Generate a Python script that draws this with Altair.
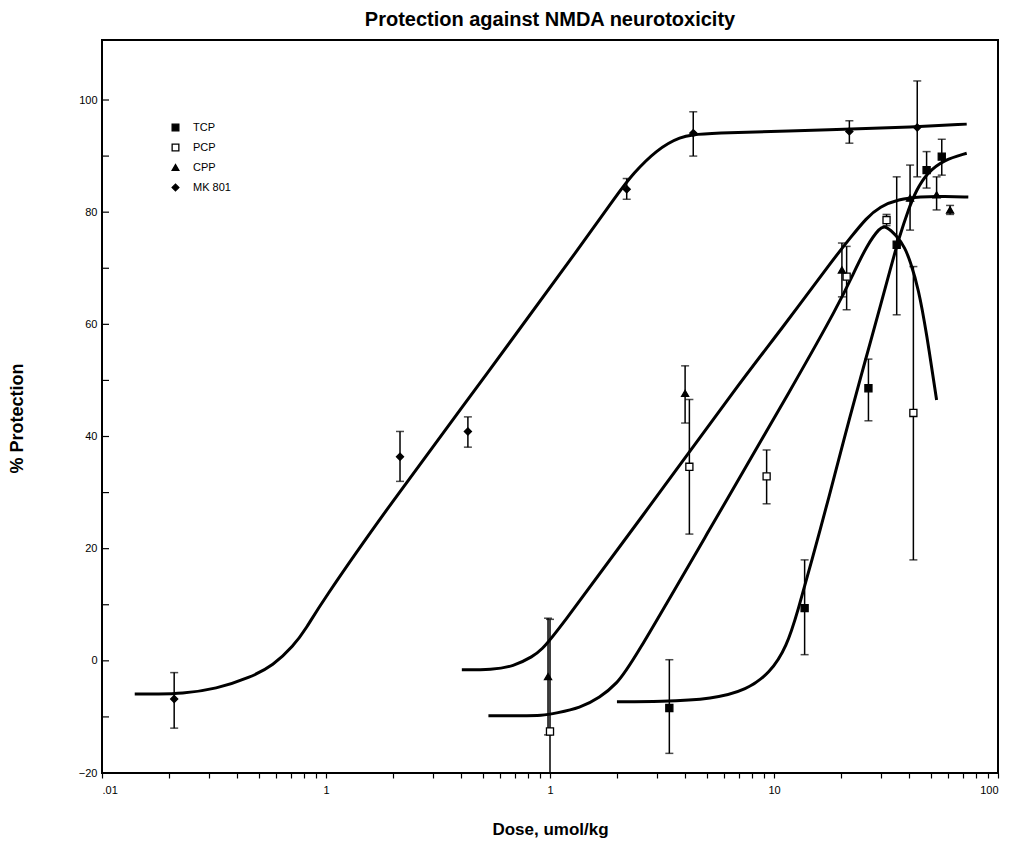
import altair as alt
import pandas as pd

# ---------------- data ----------------
series_names = ["TCP", "PCP", "CPP", "MK 801"]
series_shapes = ["square", "square", "triangle-up", "diamond"]
series_fills = ["black", "white", "black", "black"]
series_strokes = ["black", "black", "black", "black"]

tcp_x = [3.41, 13.7, 26.4, 35.3, 48.0, 56.1]
tcp_y = [-8.4, 9.4, 48.6, 74.2, 87.5, 89.9]
tcp_lo = [-16.5, 1.1, 42.8, 61.7, 84.3, 86.6]
tcp_hi = [0.2, 18.0, 53.8, 86.3, 90.8, 93.0]

pcp_x = [1.0, 4.19, 9.27, 21.1, 31.8, 41.9]
pcp_y = [-12.6, 34.6, 32.9, 68.5, 78.6, 44.2]
pcp_lo = [-32.6, 22.6, 28.0, 62.6, 77.6, 18.0]
pcp_hi = [7.4, 46.6, 37.6, 73.9, 79.6, 70.3]

cpp_x = [0.98, 4.01, 20.1, 40.5, 53.2, 61.1]
cpp_y = [-2.8, 47.7, 69.7, 82.5, 83.1, 80.4]
cpp_lo = [-13.2, 42.4, 64.9, 76.8, 80.4, 79.6]
cpp_hi = [7.6, 52.6, 74.5, 88.4, 86.3, 81.2]

mk_x = [0.021, 0.214, 0.430, 2.20, 4.36, 21.7, 43.6]
mk_y = [-6.8, 36.4, 40.9, 84.1, 94.1, 94.4, 95.1]
mk_lo = [-12.0, 32.0, 38.1, 82.3, 90.0, 92.3, 86.3]
mk_hi = [-2.1, 40.9, 43.5, 86.0, 97.9, 96.3, 103.4]

# fitted curves
mk_curve_x = [0.0140, 0.0180, 0.0223, 0.0325, 0.0458, 0.0582, 0.0715, 0.0820,
              0.0940, 0.187, 0.540, 1.36, 1.99, 2.35, 2.99, 3.80, 4.75, 19.7,
              41.9, 72.5]
mk_curve_y = [-5.9, -5.9, -5.9, -5.0, -3.0, -0.8, 2.6, 5.9,
              10.0, 27.2, 51.9, 73.8, 83.1, 86.9, 91.1, 93.5, 94.1, 94.7,
              95.2, 95.7]

cpp_curve_x = [0.404, 0.550, 0.686, 0.842, 0.918, 1.05, 2.5, 7.18, 10.6,
               18.7, 21.8, 25.9, 29.7, 35.9, 44.9, 58.0, 73.7]
cpp_curve_y = [-1.6, -1.6, -1.0, 0.8, 2.0, 4.6, 25.0, 50.1, 58.7,
               72.0, 75.3, 79.0, 81.0, 82.3, 82.8, 82.8, 82.7]

pcp_curve_x = [0.531, 0.750, 0.918, 1.07, 1.36, 1.67, 1.99, 2.28, 5.0, 12.6,
               19.4, 22.6, 25.9, 29.7, 31.5, 35.3, 38.5, 40.5, 44.1, 48.0, 53.2]
pcp_curve_y = [-9.8, -9.8, -9.8, -9.3, -8.4, -6.6, -4.0, -1.0, 22.5, 50.1,
               63.5, 69.0, 74.0, 77.3, 77.6, 75.8, 73.6, 71.3, 66.5, 58.4, 46.5]

tcp_curve_x = [1.99, 3.10, 5.36, 7.55, 9.59, 11.4, 12.8, 14.7, 17.8, 20.1,
               25.0, 26.4, 34.1, 35.9, 39.8, 43.3, 48.0, 57.0, 72.5]
tcp_curve_y = [-7.3, -7.3, -6.8, -5.2, -2.2, 2.5, 9.0, 17.7, 29.9, 38.2,
               52.2, 55.5, 71.8, 75.0, 80.5, 84.0, 86.9, 89.3, 90.5]

x_major_values = [0.01, 0.1, 1, 10, 100]
x_major_labels = [".01", "1", "1", "10", "100"]
y_tick_values = [-20, -10, 0, 10, 20, 30, 40, 50, 60, 70, 80, 90, 100]
y_label_values = [-20, 0, 20, 40, 60, 80, 100]

# ---------------- tables ----------------
pts = []
for name, xs, ys, los, his in [
    ("TCP", tcp_x, tcp_y, tcp_lo, tcp_hi),
    ("PCP", pcp_x, pcp_y, pcp_lo, pcp_hi),
    ("CPP", cpp_x, cpp_y, cpp_lo, cpp_hi),
    ("MK 801", mk_x, mk_y, mk_lo, mk_hi),
]:
    for a, b, c, d in zip(xs, ys, los, his):
        pts.append({"series": name, "dose": a, "prot": b, "lo": c, "hi": d})
pts_df = pd.DataFrame(pts)

curves = []
for name, xs, ys in [
    ("TCP", tcp_curve_x, tcp_curve_y),
    ("PCP", pcp_curve_x, pcp_curve_y),
    ("CPP", cpp_curve_x, cpp_curve_y),
    ("MK 801", mk_curve_x, mk_curve_y),
]:
    for a, b in zip(xs, ys):
        curves.append({"series": name, "dose": a, "prot": b})
curve_df = pd.DataFrame(curves)

x_minor_values = []
for e in range(-2, 2):
    for m in range(1, 10):
        x_minor_values.append(round(m * 10 ** e, 6))
x_minor_values.append(100)

label_expr = "''"
for v, lab in reversed(list(zip(x_major_values, x_major_labels))):
    label_expr = f"abs(datum.value - {v}) < {v}*1e-6 ? '{lab}' : ({label_expr})"

FONT = "Liberation Sans"
W, H = 896, 733

xscale = alt.Scale(type="log", domain=[0.01, 100], nice=False)
yscale = alt.Scale(domain=[-20, 110.7], nice=False, zero=False)

x_axis = alt.Axis(values=x_minor_values, labelExpr=label_expr, grid=False,
                  domain=False, tickColor="black", tickSize=5, tickWidth=1.2,
                  labelColor="black", labelFont=FONT, labelFontSize=11,
                  labelPadding=6, labelOverlap=False, labelFlush=8,
                  title="Dose, umol/kg", titleFont=FONT, titleFontSize=17,
                  titleFontWeight="bold", titleColor="black", titlePadding=26)

y_axis = alt.Axis(values=y_label_values, format="d", grid=False, domain=False,
                  ticks=False, labelColor="black", labelFont=FONT,
                  labelFontSize=11, labelPadding=5,
                  title="% Protection", titleFont=FONT, titleFontSize=18,
                  titleFontWeight="bold", titleColor="black", titlePadding=52,
                  titleY=378)

X = alt.X("dose:Q", scale=xscale, axis=x_axis)
Y = alt.Y("prot:Q", scale=yscale, axis=y_axis)

lines = alt.Chart(curve_df).mark_line(color="black", strokeWidth=3,
                                      interpolate="basis").encode(
    x=X, y=Y, detail="series:N")

bars = alt.Chart(pts_df).mark_rule(color="black", strokeWidth=1.5, clip=True).encode(
    x="dose:Q", y="lo:Q", y2="hi:Q")

caps = alt.Chart(pts_df).transform_fold(["lo", "hi"], as_=["end", "val"]).mark_tick(
    color="black", orient="horizontal", size=8, thickness=1.5, clip=True).encode(
    x="dose:Q", y="val:Q")

leg = dict(title=None, orient="none", legendX=68, legendY=82,
           labelFont=FONT, labelFontSize=11, labelColor="black",
           symbolSize=45, symbolStrokeWidth=1.3, rowPadding=7, labelOffset=12)

points = alt.Chart(pts_df).mark_point(filled=True, opacity=1, size=50,
                                      strokeWidth=1.3).encode(
    x="dose:Q", y="prot:Q",
    shape=alt.Shape("series:N", scale=alt.Scale(domain=series_names, range=series_shapes),
                    legend=alt.Legend(**leg)),
    fill=alt.Fill("series:N", scale=alt.Scale(domain=series_names, range=series_fills),
                  legend=alt.Legend(**leg)),
    stroke=alt.Stroke("series:N", scale=alt.Scale(domain=series_names, range=series_strokes),
                      legend=alt.Legend(**leg)),
)

# inward tick marks on the left frame, placed by the y scale
tick_df = pd.DataFrame({"v": y_tick_values})
inner_ticks = alt.Chart(tick_df).mark_rule(color="black", strokeWidth=1.2).encode(
    y=alt.Y("v:Q", scale=yscale), x=alt.value(0), x2=alt.value(7))

chart = alt.layer(lines, bars, caps, points, inner_ticks).properties(
    width=W, height=H,
    autosize=alt.AutoSizeParams(type="none"),
    padding={"left": 94, "top": 32, "right": 6, "bottom": 72},
    title=alt.Title("Protection against NMDA neurotoxicity", font=FONT,
                    fontSize=20, fontWeight="bold", color="black", offset=10,
                    anchor="middle"),
).configure(background="white").configure_view(stroke="black", strokeWidth=2)

chart.save("out.html", embed_options={"renderer": "svg", "actions": False})
